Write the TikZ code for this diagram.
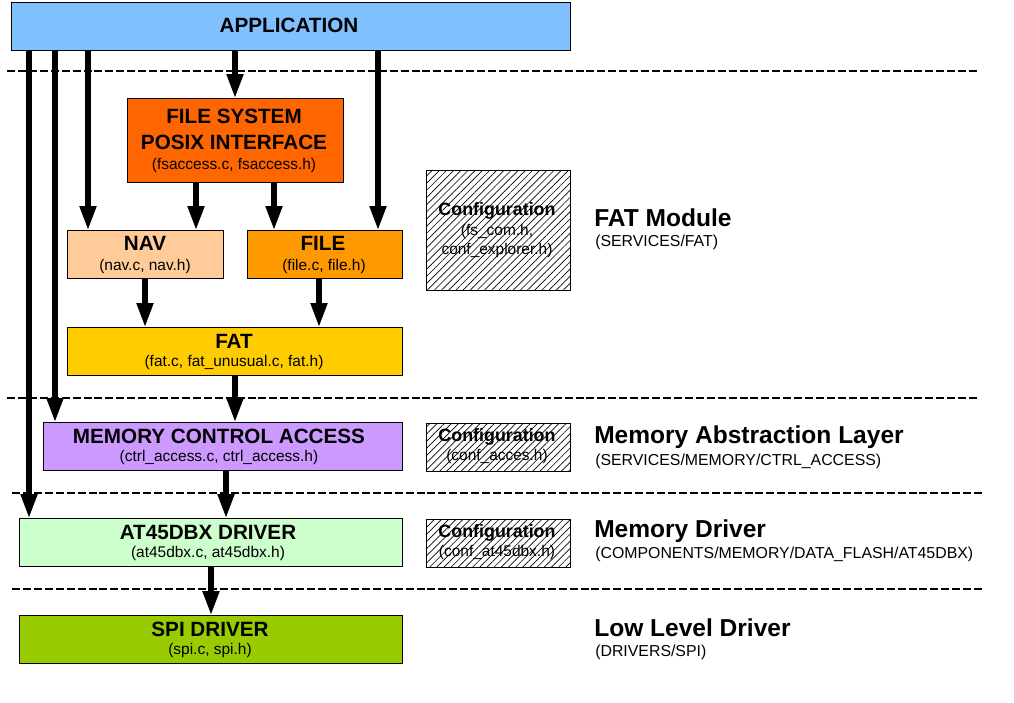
\documentclass[tikz,border=0pt]{standalone}
\usepackage{fontspec}
\setmainfont{Liberation Sans}
\usetikzlibrary{arrows.meta,patterns.meta}
\definecolor{appc}{HTML}{80C0FF}
\definecolor{fspic}{HTML}{FF6600}
\definecolor{navc}{HTML}{FFCC99}
\definecolor{filec}{HTML}{FF9900}
\definecolor{fatc}{HTML}{FFCC00}
\definecolor{mcac}{HTML}{CC99FF}
\definecolor{atc}{HTML}{CCFFCC}
\definecolor{spic}{HTML}{99CC00}
\tikzset{
  box/.style={draw=black, line width=0.9pt, inner sep=0pt, anchor=north west},
  ttl/.style={font=\fontsize{15.5}{17}\selectfont\bfseries, inner sep=0pt},
  sub/.style={font=\fontsize{11.6}{13}\selectfont, inner sep=0pt},
  cfgttl/.style={font=\fontsize{13.4}{15}\selectfont\bfseries, inner sep=0pt},
  cfgbox/.style={box, pattern={Lines[angle=45,distance=3.8pt,line width=0.5pt]}},
  laybig/.style={font=\fontsize{18.4}{21}\selectfont\bfseries, inner sep=0pt, anchor=west},
  laysub/.style={font=\fontsize{11.9}{13}\selectfont, inner sep=0pt, anchor=west},
  sep/.style={line width=1.5pt, dash pattern=on 6pt off 2.2pt},
  flow/.style={line width=3.8pt, -{Triangle[width=12pt,length=18pt]}},
}
\begin{document}
\begin{tikzpicture}[x=0.75pt,y=-0.75pt]
\useasboundingbox (0,0) rectangle (1014,703);
% separators
\coordinate (s1a) at (7,71);  \coordinate (s1b) at (977,71);
\coordinate (s2a) at (7,398); \coordinate (s2b) at (977,398);
\coordinate (s3a) at (12,493); \coordinate (s3b) at (982,493);
\coordinate (s4a) at (12,589); \coordinate (s4b) at (982,589);
\draw[sep] (s1a) -- (s1b);
\draw[sep] (s2a) -- (s2b);
\draw[sep] (s3a) -- (s3b);
\draw[sep] (s4a) -- (s4b);
% boxes
\node[box, fill=appc, minimum width=559*0.75pt, minimum height=48*0.75pt] (app) at (11,2) {};
\node[box, fill=fspic, minimum width=216*0.75pt, minimum height=84*0.75pt] (fspi) at (127,98) {};
\node[box, fill=navc, minimum width=156*0.75pt, minimum height=48*0.75pt] (nav) at (67,230) {};
\node[box, fill=filec, minimum width=155*0.75pt, minimum height=48*0.75pt] (file) at (247,230) {};
\node[box, fill=fatc, minimum width=335*0.75pt, minimum height=48*0.75pt] (fat) at (67,327) {};
\node[box, fill=mcac, minimum width=359*0.75pt, minimum height=48*0.75pt] (mca) at (43,422) {};
\node[box, fill=atc, minimum width=383*0.75pt, minimum height=48*0.75pt] (at45) at (19,518) {};
\node[box, fill=spic, minimum width=383*0.75pt, minimum height=48*0.75pt] (spi) at (19,615) {};
\node[cfgbox, minimum width=144*0.75pt, minimum height=120*0.75pt] (cfg1) at (426,170) {};
\node[cfgbox, minimum width=144*0.75pt, minimum height=48*0.75pt] (cfg2) at (426,423) {};
\node[cfgbox, minimum width=144*0.75pt, minimum height=48*0.75pt] (cfg3) at (426,519) {};
% box texts
\node[ttl] (appT) at (289,25) {APPLICATION};
\node[ttl] (fspiT1) at (234,116) {FILE SYSTEM};
\node[ttl] (fspiT2) at (234,142) {POSIX INTERFACE};
\node[sub] (fspiS) at (234,165) {(fsaccess.c, fsaccess.h)};
\node[ttl] (navT) at (145,243) {NAV};
\node[sub] (navS) at (145,266) {(nav.c, nav.h)};
\node[ttl] (fileT) at (323,243) {FILE};
\node[sub] (fileS) at (324,266) {(file.c, file.h)};
\node[ttl] (fatT) at (234,341) {FAT};
\node[sub] (fatS) at (234,362) {(fat.c, fat\_unusual.c, fat.h)};
\node[ttl] (mcaT) at (219,436) {MEMORY CONTROL ACCESS};
\node[sub] (mcaS) at (219,457) {(ctrl\_access.c, ctrl\_access.h)};
\node[ttl] (atT) at (208,532) {AT45DBX DRIVER};
\node[sub] (atS) at (208,553) {(at45dbx.c, at45dbx.h)};
\node[ttl] (spiT) at (210,629) {SPI DRIVER};
\node[sub] (spiS) at (210,650) {(spi.c, spi.h)};
\node[cfgttl] (cfg1T) at (497,211) {Configuration};
\node[sub] (cfg1S1) at (497,231) {(fs\_com.h,};
\node[sub] (cfg1S2) at (497,250) {conf\_explorer.h)};
\node[cfgttl] (cfg2T) at (497,437) {Configuration};
\node[sub] (cfg2S) at (497,456) {(conf\_acces.h)};
\node[cfgttl] (cfg3T) at (497,533) {Configuration};
\node[sub] (cfg3S) at (497,552) {(conf\_at45dbx.h)};
% layer labels
\node[laybig] (l1) at (594,218) {FAT Module};
\node[laysub] (l1s) at (595,242) {(SERVICES/FAT)};
\node[laybig] (l2) at (594,437) {Memory Abstraction Layer};
\node[laysub] (l2s) at (595,461) {(SERVICES/MEMORY/CTRL\_ACCESS)};
\node[laybig] (l3) at (594,531) {Memory Driver};
\node[laysub] (l3s) at (595,554) {(COMPONENTS/MEMORY/DATA\_FLASH/AT45DBX)};
\node[laybig] (l4) at (594,628) {Low Level Driver};
\node[laysub] (l4s) at (595,652) {(DRIVERS/SPI)};
% flows
\draw[flow] (app.south -| 29,0) -- (at45.north -| 29,0);
\draw[flow] (app.south -| 55,0) -- (mca.north -| 55,0);
\draw[flow] (app.south -| 88,0) -- (nav.north -| 88,0);
\draw[flow] (app.south -| 235,0) -- (fspi.north -| 235,0);
\draw[flow] (app.south -| 378,0) -- (file.north -| 378,0);
\draw[flow] (fspi.south -| 196,0) -- (nav.north -| 196,0);
\draw[flow] (fspi.south -| 274,0) -- (file.north -| 274,0);
\draw[flow] (nav.south -| 145,0) -- (fat.north -| 145,0);
\draw[flow] (file.south -| 319,0) -- (fat.north -| 319,0);
\draw[flow] (fat.south -| 235,0) -- (mca.north -| 235,0);
\draw[flow] (mca.south -| 226,0) -- (at45.north -| 226,0);
\draw[flow] (at45.south -| 211,0) -- (spi.north -| 211,0);
\end{tikzpicture}
\end{document}
